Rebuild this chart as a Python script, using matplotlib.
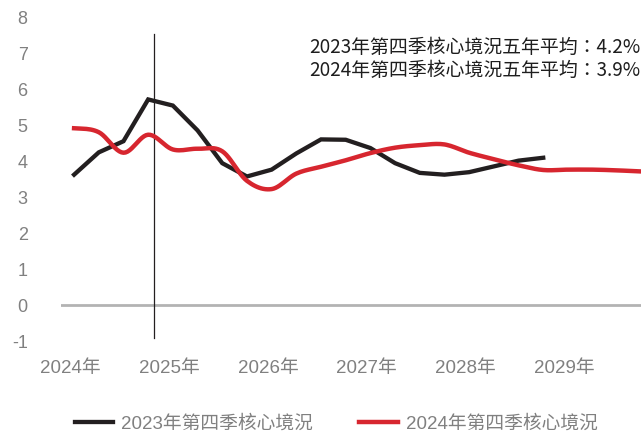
import matplotlib
matplotlib.use("Agg")
import matplotlib.pyplot as plt
from matplotlib import font_manager
import numpy as np

fams = [f.name for f in font_manager.fontManager.ttflist]
narrow = 'Liberation Sans Narrow' if 'Liberation Sans Narrow' in fams else 'Liberation Sans'
plt.rcParams['font.family'] = [narrow, 'Noto Sans CJK TC', 'DejaVu Sans']

# Data (quarterly, starting 2024 Q1)
series_2023q4 = [3.62, 4.24, 4.55, 5.71, 5.54, 4.85, 3.94, 3.57, 3.76, 4.21,
                 4.60, 4.59, 4.36, 3.94, 3.67, 3.62, 3.69, 3.85, 4.01, 4.09]
series_2024q4 = [4.91, 4.80, 4.23, 4.73, 4.32, 4.34, 4.27, 3.45, 3.22, 3.65,
                 3.84, 4.02, 4.22, 4.37, 4.44, 4.46, 4.23, 4.05, 3.88, 3.75,
                 3.76, 3.76, 3.74, 3.71]
year_labels = ['2024年', '2025年', '2026年', '2027年', '2028年', '2029年']
y_ticks = [-1, 0, 1, 2, 3, 4, 5, 6, 7, 8]
legend_labels = ['2023年第四季核心境況', '2024年第四季核心境況']
annotations = ['2023年第四季核心境況五年平均：4.2%', '2024年第四季核心境況五年平均：3.9%']
marker_quarter = 3.25

black = '#231f20'
red = '#d7262f'
gray = '#808080'

fig = plt.figure(figsize=(6.41, 4.33), dpi=100)
ax = fig.add_axes([61/641, 1-341/433, 1-61/641, (341-17)/433])

def catmull(ys, n=12):
    xs_out, ys_out = [], []
    p = [ys[0]] + list(ys) + [ys[-1]]
    for i in range(1, len(p) - 2):
        p0, p1, p2, p3 = p[i-1], p[i], p[i+1], p[i+2]
        for t in np.linspace(0, 1, n, endpoint=False):
            v = 0.5 * ((2*p1) + (-p0 + p2)*t + (2*p0 - 5*p1 + 4*p2 - p3)*t**2 + (-p0 + 3*p1 - 3*p2 + p3)*t**3)
            xs_out.append(i - 1 + t)
            ys_out.append(v)
    xs_out.append(len(ys) - 1)
    ys_out.append(ys[-1])
    return xs_out, ys_out

ax.axhline(0, color='#b3b3b3', lw=2, zorder=1)
ax.plot([marker_quarter, marker_quarter], [-0.92, 7.52], color=black, lw=0.9, zorder=2)

x1 = list(range(len(series_2023q4)))
ax.plot(x1, series_2023q4, color=black, lw=3.1, solid_joinstyle='miter', zorder=3, label=legend_labels[0])
rx, ry = catmull(series_2024q4)
ax.plot(rx, ry, color=red, lw=3.2, zorder=4, label=legend_labels[1])

ax.set_xlim(-0.53, 22.96)
ax.set_ylim(-1, 8)
ax.set_yticks(y_ticks)
ax.set_yticklabels([str(v) for v in y_ticks])
ax.set_xticks([4*i - 0.15 for i in range(len(year_labels))])
ax.set_xticklabels(year_labels)
ax.tick_params(axis='y', length=0, pad=24, labelsize=13, labelcolor=gray)
ax.tick_params(axis='x', length=0, pad=14, labelsize=13.5, labelcolor=gray)
for s in ax.spines.values():
    s.set_visible(False)

for i, t in enumerate(annotations):
    fig.text(640/641, 1 - (47 + 23*i)/433, t, ha='right', va='center',
             fontsize=13.6, color='#1e1e1e', family=['Noto Sans CJK TC', 'DejaVu Sans'])

fig.legend(loc='center', bbox_to_anchor=(336/641, 1 - 424/433), ncol=2,
           frameon=False, fontsize=13.5, handlelength=2.03, handletextpad=0.43,
           columnspacing=2.5, labelcolor=gray)

fig.savefig('out.png', dpi=100)
